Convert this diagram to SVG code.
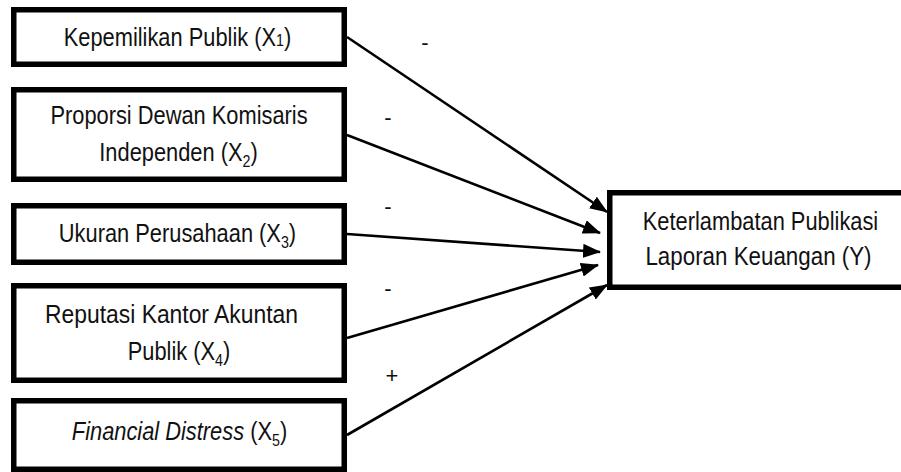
<svg xmlns="http://www.w3.org/2000/svg" width="901" height="472" viewBox="0 0 901 472">
<style>
.box{fill:#fff;stroke:#000;stroke-width:5.5}
.t{font-family:"Liberation Sans",Arial,sans-serif;font-size:26px;fill:#111;text-anchor:middle}
.sub{font-size:17px}
.lbl{font-family:"Liberation Sans",Arial,sans-serif;font-size:22px;fill:#111;text-anchor:middle}
.edge{stroke:#000;stroke-width:2.6;fill:none;marker-end:url(#ah)}
</style>
<defs>
<marker id="ah" markerUnits="userSpaceOnUse" markerWidth="18" markerHeight="14" refX="17" refY="7" orient="auto">
<path d="M0,0 L18,7 L0,14 z" fill="#000"/>
</marker>
</defs>
<rect width="901" height="472" fill="#fff"/>
<g id="connectors">
<line class="edge" x1="347" y1="37" x2="607" y2="212"/>
<line class="edge" x1="347" y1="135" x2="600" y2="233"/>
<line class="edge" x1="347" y1="234" x2="600" y2="252"/>
<line class="edge" x1="347" y1="338" x2="598" y2="265"/>
<line class="edge" x1="347" y1="435" x2="607" y2="285"/>
<text class="lbl" x="425" y="50">-</text>
<text class="lbl" x="388" y="125">-</text>
<text class="lbl" x="388" y="214">-</text>
<text class="lbl" x="388" y="296">-</text>
<text class="lbl" x="392" y="383">+</text>
</g>
<g id="x1">
<rect class="box" x="13.75" y="9.75" width="330.5" height="54.5"/>
<text class="t" transform="translate(177.5,46) scale(0.84,1)">Kepemilikan Publik (X<tspan class="sub">1</tspan>)</text>
</g>
<g id="x2">
<rect class="box" x="13.75" y="89.75" width="330.5" height="89.5"/>
<text class="t" transform="translate(179,124) scale(0.84,1)">Proporsi Dewan Komisaris</text>
<text class="t" transform="translate(178.5,161) scale(0.84,1)">Independen (X<tspan class="sub" dy="6">2</tspan><tspan dy="-6">)</tspan></text>
</g>
<g id="x3">
<rect class="box" x="13.75" y="205.75" width="330.5" height="56.5"/>
<text class="t" transform="translate(177.5,242) scale(0.84,1)">Ukuran Perusahaan (X<tspan class="sub" dy="6">3</tspan><tspan dy="-6">)</tspan></text>
</g>
<g id="x4">
<rect class="box" x="13.75" y="285.75" width="330.5" height="94.5"/>
<text class="t" transform="translate(171.5,323) scale(0.88,1)">Reputasi Kantor Akuntan</text>
<text class="t" transform="translate(179,360) scale(0.84,1)">Publik (X<tspan class="sub" dy="6">4</tspan><tspan dy="-6">)</tspan></text>
</g>
<g id="x5">
<rect class="box" x="13.75" y="400.75" width="330.5" height="68.5"/>
<text class="t" transform="translate(179.5,440) scale(0.84,1)"><tspan font-style="italic">Financial Distress</tspan> (X<tspan class="sub" dy="6">5</tspan><tspan dy="-6">)</tspan></text>
</g>
<g id="y">
<path class="box" d="M901,192.75 H609.75 V287.25 H901"/>
<text class="t" transform="translate(760.5,230) scale(0.84,1)">Keterlambatan Publikasi</text>
<text class="t" transform="translate(758.5,265) scale(0.86,1)">Laporan Keuangan (Y)</text>
</g>
</svg>
